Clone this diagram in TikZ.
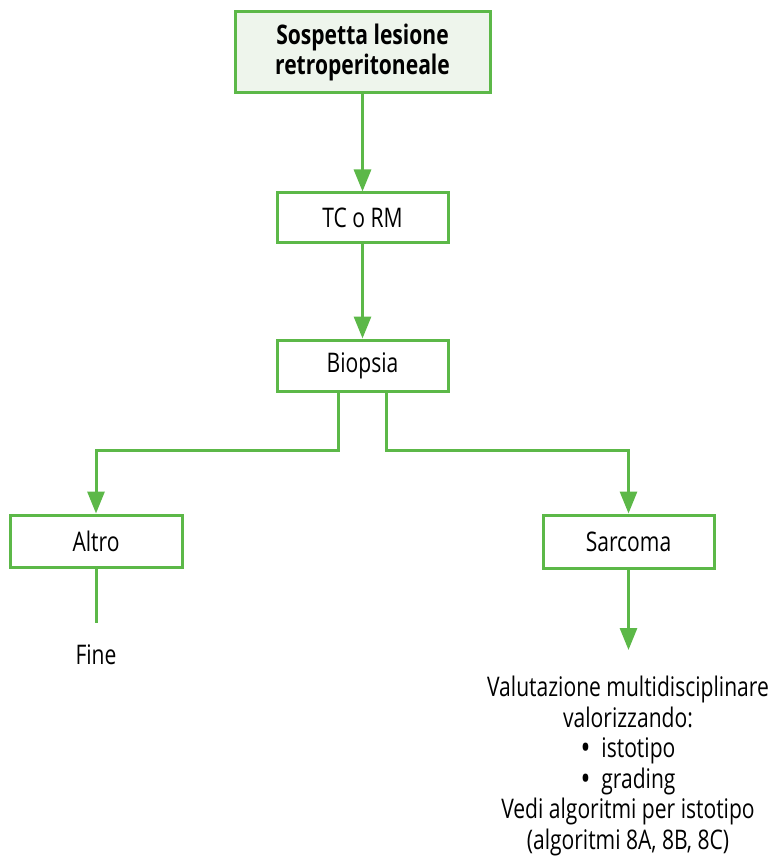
\documentclass[tikz,border=0pt]{standalone}
\usepackage{fontspec}
\setmainfont{Open Sans}[FakeStretch=0.78]
\usetikzlibrary{arrows.meta}
\definecolor{flowgreen}{RGB}{92,184,72}
\definecolor{startfill}{RGB}{238,245,236}
\newcommand{\bigdot}{\raisebox{-0.08em}[0.4em][0pt]{\scalebox{1.25}{\textbullet}}}
\begin{document}
\begin{tikzpicture}[x=1pt,y=-1pt,
  box/.style={draw=flowgreen,line width=3pt,fill=white,inner sep=0pt,
    font=\fontsize{27}{30.5}\selectfont,align=center},
  startbox/.style={box,fill=startfill,font=\fontsize{27}{30.5}\selectfont\bfseries},
  plain/.style={inner sep=0pt,font=\fontsize{27}{30.5}\selectfont,align=center},
  link/.style={draw=flowgreen,line width=3pt},
  arr/.style={link,-{Triangle[width=17pt,length=22pt]}}]
\useasboundingbox (0,0) rectangle (772,858);

\node[startbox,minimum width=255pt,minimum height=81pt] (start) at (362.5,52.5)
  {Sospetta lesione\\retroperitoneale};
\node[box,minimum width=171pt,minimum height=50pt] (imaging) at (362.5,218) {TC o RM};
\node[box,minimum width=171pt,minimum height=51pt] (bio) at (362.5,365.5) {Biopsia};
\node[box,minimum width=172pt,minimum height=52pt] (altro) at (96,541) {Altro};
\node[box,minimum width=171pt,minimum height=53pt] (sarc) at (628.5,541.5) {Sarcoma};
\node[plain] (fine) at (96,655) {Fine};
\coordinate (fineend) at (96,623);
\coordinate (evalend) at (628.5,650);
\node[plain,anchor=north] (eval) at (628,676)
  {Valutazione multidisciplinare\\valorizzando:\\
   \bigdot\ \ istotipo\\
   \bigdot\ \ grading\\
   Vedi algoritmi per istotipo\\
   (algoritmi 8A, 8B, 8C)};

\draw[arr] (start.south) -- (imaging.north);
\draw[arr] (imaging.south) -- (bio.north);
\draw[arr] ([xshift=-24.5pt]bio.south) -- ++(0,58) -| (altro.north);
\draw[arr] ([xshift=23.5pt]bio.south) -- ++(0,58) -| (sarc.north);
\draw[link] (altro.south) -- (fineend);
\draw[arr] (sarc.south) -- (evalend);
\end{tikzpicture}
\end{document}
